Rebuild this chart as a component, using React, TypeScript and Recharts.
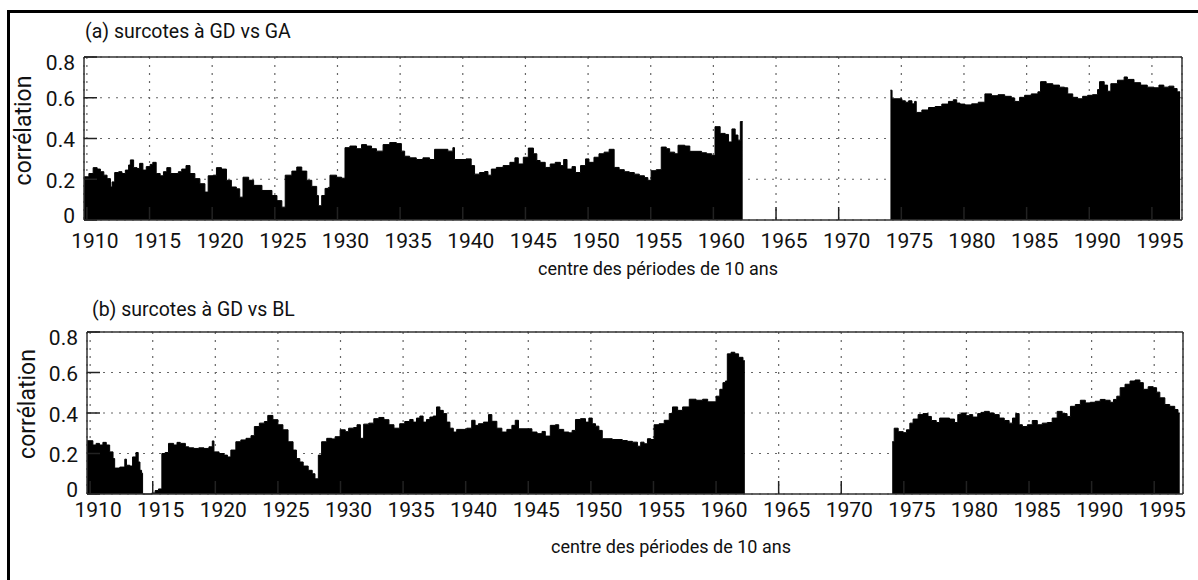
import { AreaChart, Area, XAxis, YAxis, CartesianGrid } from 'recharts';

// tick positions
const yearTicks = [1910, 1915, 1920, 1925, 1930, 1935, 1940, 1945, 1950, 1955, 1960, 1965, 1970, 1975, 1980, 1985, 1990, 1995];
const corrTicks = [0, 0.2, 0.4, 0.6, 0.8];

// (a) GD vs GA : centre of the 10-year window, correlation (null = no data)
const gaYears = [
  1909.77, 1910.16, 1910.5, 1910.82, 1911.08, 1911.35, 1911.61, 1911.88, 1912.01, 1912.22, 1912.54, 1912.8,
  1913.07, 1913.33, 1913.47, 1913.73, 1914.0, 1914.21, 1914.47, 1914.74, 1915.05, 1915.26, 1915.53, 1915.85,
  1916.11, 1916.38, 1916.69, 1917.3, 1917.57, 1917.91, 1918.23, 1918.62, 1919.02, 1919.42, 1919.68, 1920.08,
  1920.34, 1920.74, 1921.14, 1921.53, 1921.93, 1922.2, 1922.46, 1922.91, 1923.31, 1923.97, 1924.77, 1925.17,
  1925.56, 1925.83, 1926.36, 1926.75, 1927.15, 1927.55, 1927.95, 1928.34, 1928.48, 1928.74, 1929.01, 1929.27,
  1929.4, 1929.93, 1930.33, 1930.6, 1930.99, 1931.52, 1931.92, 1932.32, 1932.72, 1933.11, 1933.64, 1934.17,
  1934.7, 1935.1, 1935.36, 1935.76, 1936.29, 1936.82, 1937.35, 1937.75, 1938.81, 1939.21, 1939.34, 1940.26,
  1940.67, 1940.94, 1941.34, 1941.74, 1942.01, 1942.28, 1942.68, 1943.22, 1943.76, 1944.16, 1944.43, 1944.83,
  1945.23, 1945.64, 1945.91, 1946.17, 1946.58, 1946.98, 1947.38, 1947.79, 1948.05, 1948.32, 1948.72, 1948.99,
  1949.4, 1949.8, 1950.07, 1950.47, 1950.87, 1951.28, 1951.68, 1952.08, 1952.48, 1952.89, 1953.29, 1953.69,
  1954.09, 1954.5, 1954.77, 1955.03, 1955.44, 1955.84, 1956.24, 1956.51, 1956.91, 1957.18, 1957.72, 1958.12,
  1959.06, 1959.46, 1959.87, 1960.13, 1960.54, 1960.94, 1961.21, 1961.48, 1961.74, 1961.96, 1962.15, 1962.34,
  1968,
  1974.13, 1974.26, 1975.05, 1975.32, 1975.58, 1975.85, 1976.06, 1976.19, 1976.64, 1977.17, 1977.7, 1978.23,
  1978.76, 1979.15, 1979.42, 1979.68, 1980.08, 1980.61, 1981.14, 1981.67, 1982.2, 1982.72, 1983.25, 1983.78,
  1984.05, 1984.44, 1984.84, 1985.37, 1985.9, 1986.11, 1986.56, 1987.09, 1987.62, 1988.02, 1988.28, 1988.68,
  1989.07, 1989.47, 1989.87, 1990.26, 1990.66, 1990.82, 1991.19, 1991.46, 1991.72, 1992.25, 1992.78, 1993.04,
  1993.57, 1994.1, 1994.63, 1995.16, 1995.56, 1995.95, 1996.35, 1996.75, 1997.01, 1997.25,
];
const gaValues = [
  0.212, 0.228, 0.257, 0.25, 0.237, 0.22, 0.203, 0.162, 0.187, 0.233, 0.237, 0.228,
  0.245, 0.27, 0.295, 0.257, 0.253, 0.278, 0.245, 0.262, 0.273, 0.283, 0.228, 0.217,
  0.237, 0.257, 0.228, 0.237, 0.25, 0.267, 0.228, 0.203, 0.178, 0.137, 0.217, 0.22,
  0.257, 0.25, 0.195, 0.162, 0.153, 0.112, 0.21, 0.195, 0.17, 0.145, 0.12, 0.095,
  0.063, 0.22, 0.24, 0.26, 0.24, 0.195, 0.165, 0.12, 0.07, 0.12, 0.155, 0.16,
  0.22, 0.21, 0.205, 0.355, 0.363, 0.35, 0.37, 0.363, 0.35, 0.338, 0.37, 0.38,
  0.375, 0.338, 0.313, 0.305, 0.297, 0.305, 0.297, 0.347, 0.338, 0.355, 0.297, 0.3,
  0.267, 0.225, 0.233, 0.238, 0.22, 0.25, 0.258, 0.267, 0.283, 0.305, 0.275, 0.308,
  0.353, 0.325, 0.292, 0.283, 0.258, 0.275, 0.283, 0.267, 0.297, 0.25, 0.262, 0.233,
  0.267, 0.3, 0.283, 0.308, 0.325, 0.333, 0.347, 0.258, 0.247, 0.237, 0.233, 0.225,
  0.217, 0.208, 0.195, 0.242, 0.247, 0.358, 0.35, 0.333, 0.325, 0.367, 0.363, 0.337,
  0.33, 0.325, 0.317, 0.458, 0.425, 0.42, 0.383, 0.447, 0.417, 0.392, 0.483, 0.483,
  null,
  0.637, 0.595, 0.585, 0.578, 0.585, 0.57, 0.582, 0.528, 0.54, 0.552, 0.557, 0.569,
  0.582, 0.59, 0.574, 0.569, 0.565, 0.57, 0.578, 0.619, 0.61, 0.615, 0.607, 0.599,
  0.582, 0.602, 0.612, 0.619, 0.629, 0.679, 0.669, 0.662, 0.652, 0.649, 0.619, 0.602,
  0.595, 0.607, 0.612, 0.615, 0.64, 0.679, 0.662, 0.632, 0.669, 0.686, 0.702, 0.69,
  0.674, 0.662, 0.652, 0.649, 0.662, 0.652, 0.657, 0.645, 0.629, 0.629,
];

// (b) GD vs BL
const blYears = [
  1909.75, 1910.22, 1910.48, 1910.75, 1911.02, 1911.29, 1911.56, 1911.83, 1911.96, 1912.37, 1912.77, 1912.9,
  1913.17, 1913.39, 1913.66, 1913.84, 1913.98, 1914.11, 1914.19, 1914.92, 1915.19, 1915.46, 1915.73, 1915.99,
  1916.26, 1916.67, 1916.94, 1917.2, 1917.61, 1917.88, 1918.28, 1918.68, 1919.09, 1919.49, 1919.76, 1919.89,
  1920.3, 1920.7, 1920.97, 1921.24, 1921.64, 1922.04, 1922.45, 1922.85, 1923.12, 1923.52, 1923.92, 1924.19,
  1924.6, 1925.0, 1925.4, 1925.81, 1926.21, 1926.48, 1926.75, 1927.02, 1927.42, 1927.74, 1927.96, 1928.23,
  1928.49, 1928.9, 1929.3, 1929.57, 1929.97, 1930.38, 1930.65, 1931.05, 1931.32, 1931.59, 1931.85, 1932.26,
  1932.66, 1933.06, 1933.47, 1933.87, 1934.27, 1934.73, 1935.13, 1935.53, 1935.8, 1936.07, 1936.34, 1936.6,
  1936.87, 1937.14, 1937.41, 1937.67, 1937.94, 1938.21, 1938.48, 1938.74, 1939.01, 1939.28, 1940.08, 1940.48,
  1940.75, 1941.02, 1941.42, 1941.82, 1942.09, 1942.49, 1942.89, 1943.29, 1943.69, 1943.96, 1944.22, 1945.29,
  1945.7, 1946.1, 1946.36, 1946.76, 1947.17, 1947.43, 1947.83, 1948.24, 1948.5, 1948.77, 1949.17, 1949.57,
  1949.84, 1950.11, 1950.37, 1950.64, 1950.91, 1951.71, 1952.51, 1952.91, 1953.32, 1953.72, 1953.98, 1954.25,
  1954.52, 1954.79, 1955.05, 1955.45, 1955.86, 1956.26, 1956.52, 1956.93, 1957.33, 1957.86, 1958.4, 1958.93,
  1959.33, 1960.0, 1960.3, 1960.55, 1960.75, 1960.9, 1961.2, 1961.5, 1961.8, 1962.15, 1962.3,
  1968,
  1974.07, 1974.23, 1974.55, 1974.95, 1975.21, 1975.48, 1975.74, 1976.14, 1976.53, 1976.93, 1977.2, 1977.59,
  1977.86, 1978.65, 1979.05, 1979.31, 1979.58, 1979.97, 1980.24, 1980.5, 1980.9, 1981.16, 1981.43, 1981.83,
  1982.22, 1982.62, 1983.02, 1983.41, 1983.68, 1983.94, 1984.21, 1984.47, 1984.87, 1985.26, 1985.66, 1986.06,
  1986.46, 1986.85, 1987.25, 1987.65, 1988.04, 1988.31, 1988.7, 1989.1, 1989.5, 1989.89, 1990.29, 1990.69,
  1991.08, 1991.48, 1991.75, 1992.01, 1992.28, 1992.67, 1993.07, 1993.47, 1993.86, 1994.13, 1994.52, 1994.92,
  1995.19, 1995.45, 1995.85, 1996.24, 1996.64, 1996.9, 1997.04,
];
const blValues = [
  0.263, 0.242, 0.25, 0.242, 0.255, 0.242, 0.208, 0.175, 0.128, 0.133, 0.172, 0.142,
  0.138, 0.183, 0.205, 0.158, 0.117, 0.103, 0, 0.005, 0.017, 0.025, 0.2, 0.205,
  0.25, 0.242, 0.255, 0.25, 0.233, 0.228, 0.225, 0.228, 0.225, 0.233, 0.262, 0.208,
  0.2, 0.192, 0.183, 0.217, 0.258, 0.267, 0.275, 0.288, 0.333, 0.35, 0.358, 0.388,
  0.367, 0.342, 0.317, 0.258, 0.217, 0.175, 0.158, 0.138, 0.117, 0.1, 0.075, 0.192,
  0.258, 0.275, 0.272, 0.283, 0.317, 0.308, 0.325, 0.328, 0.342, 0.275, 0.345, 0.35,
  0.372, 0.378, 0.367, 0.342, 0.325, 0.347, 0.358, 0.368, 0.355, 0.375, 0.385, 0.355,
  0.368, 0.38, 0.385, 0.43, 0.413, 0.397, 0.355, 0.325, 0.306, 0.319, 0.325, 0.364,
  0.339, 0.347, 0.355, 0.392, 0.359, 0.325, 0.306, 0.319, 0.339, 0.364, 0.322, 0.306,
  0.298, 0.309, 0.286, 0.339, 0.342, 0.319, 0.306, 0.302, 0.314, 0.368, 0.372, 0.355,
  0.375, 0.347, 0.335, 0.314, 0.273, 0.269, 0.264, 0.26, 0.256, 0.236, 0.256, 0.248,
  0.273, 0.269, 0.342, 0.347, 0.364, 0.397, 0.43, 0.413, 0.43, 0.468, 0.463, 0.468,
  0.455, 0.483, 0.517, 0.55, 0.558, 0.692, 0.7, 0.692, 0.675, 0.658, 0.658,
  null,
  0.258, 0.325, 0.308, 0.303, 0.317, 0.35, 0.37, 0.392, 0.397, 0.383, 0.363, 0.353,
  0.375, 0.37, 0.353, 0.392, 0.4, 0.387, 0.392, 0.38, 0.397, 0.403, 0.408, 0.4,
  0.392, 0.375, 0.363, 0.35, 0.375, 0.397, 0.342, 0.333, 0.342, 0.363, 0.342, 0.35,
  0.353, 0.375, 0.408, 0.397, 0.383, 0.433, 0.442, 0.463, 0.45, 0.453, 0.458, 0.467,
  0.463, 0.453, 0.467, 0.483, 0.525, 0.542, 0.558, 0.563, 0.55, 0.517, 0.53, 0.525,
  0.503, 0.475, 0.442, 0.433, 0.417, 0.4, 0.4,
];

const FONT = 'Roboto, "Liberation Sans", Arial, sans-serif';
const INK = '#111';
const FRAME = '#333';

const toRows = (years: number[], values: (number | null)[]) =>
  years.map((x, i) => ({ x, r: values[i] }));

const fmtCorr = (v: number) => (v === 0 ? '0' : v.toFixed(1));

// the top and bottom y labels sit a little inside the frame, as in the original
const CorrTick = (props: any) => {
  const { x, y, payload } = props;
  const v = payload.value;
  const shift = v === 0.8 ? 5 : v === 0 ? -5 : 1;
  return (
    <text x={x} y={y + shift} dy="0.36em" textAnchor="end" fill={INK} fontSize={21} fontFamily={FONT}>
      {fmtCorr(v)}
    </text>
  );
};

type PanelProps = {
  rows: { x: number; r: number | null }[];
  title: string;
  top: number;
  titleLeft: number;
  titleTop: number;
  margin: { top: number; right: number; bottom: number; left: number };
  yWidth: number;
  xHeight: number;
  domain: [number, number];
  tickGap: number;
  xLabelOffset: number;
  xLabelDx: number;
  yLabelOffset: number;
  yLabelDy: number;
};

function Panel(p: PanelProps) {
  return (
    <div style={{ position: 'absolute', left: 0, top: p.top, width: 1198, height: 290 }}>
      <div style={{ position: 'absolute', left: p.titleLeft, top: p.titleTop, fontFamily: FONT, fontSize: 19.5, lineHeight: '22px', color: INK, whiteSpace: 'nowrap' }}>
        {p.title}
      </div>
      <AreaChart width={1198} height={290} data={p.rows} margin={p.margin}>
        <CartesianGrid stroke="#666" strokeWidth={1.2} strokeDasharray="2 6" />
        <Area
          dataKey="r"
          type="stepAfter"
          stroke="#000"
          strokeWidth={1}
          fill="#000"
          fillOpacity={1}
          connectNulls={false}
          dot={false}
          activeDot={false}
          isAnimationActive={false}
        />
        <XAxis
          dataKey="x"
          type="number"
          domain={p.domain}
          allowDataOverflow
          ticks={yearTicks}
          interval={0}
          height={p.xHeight}
          tickSize={-13}
          tickMargin={13 + p.tickGap}
          tick={{ fill: INK, fontSize: 21, fontFamily: FONT, dx: 8 }}
          axisLine={{ stroke: FRAME, strokeWidth: 1.5 }}
          tickLine={{ stroke: '#222', strokeWidth: 1.5 }}
          label={{ value: 'centre des périodes de 10 ans', position: 'insideBottom', offset: p.xLabelOffset, dx: p.xLabelDx, fill: INK, fontSize: 18, fontFamily: FONT }}
        />
        <XAxis
          xAxisId="top"
          orientation="top"
          dataKey="x"
          type="number"
          domain={p.domain}
          allowDataOverflow
          ticks={yearTicks}
          interval={0}
          height={1}
          tickSize={-13}
          tick={false}
          axisLine={{ stroke: FRAME, strokeWidth: 1.5 }}
          tickLine={{ stroke: '#222', strokeWidth: 1.5 }}
        />
        <YAxis
          type="number"
          domain={[0, 0.8]}
          ticks={corrTicks}
          interval={0}
          width={p.yWidth}
          tickSize={-13}
          tickMargin={22}
          tick={CorrTick}
          axisLine={{ stroke: FRAME, strokeWidth: 1.5 }}
          tickLine={{ stroke: '#222', strokeWidth: 1.5 }}
          label={{ value: 'corrélation', angle: -90, position: 'insideLeft', offset: p.yLabelOffset, dy: p.yLabelDy, fill: INK, fontSize: 23, fontFamily: FONT, style: { textAnchor: 'middle' } }}
        />
        <YAxis
          yAxisId="right"
          orientation="right"
          type="number"
          domain={[0, 0.8]}
          ticks={corrTicks}
          interval={0}
          width={1}
          tickSize={-13}
          tick={false}
          axisLine={{ stroke: FRAME, strokeWidth: 1.5 }}
          tickLine={{ stroke: '#222', strokeWidth: 1.5 }}
        />
      </AreaChart>
    </div>
  );
}

export default function App() {
  return (
    <div style={{ position: 'absolute', left: 0, top: 0, width: 1198, height: 580, background: '#fff', overflow: 'hidden' }}>
      <div style={{ position: 'absolute', left: 7, top: 10, right: 0, bottom: 0, borderTop: '3px solid #000', borderLeft: '3px solid #000' }} />
      <Panel
        rows={toRows(gaYears, gaValues)}
        title="(a) surcotes à GD vs GA"
        top={0}
        titleLeft={85}
        titleTop={21}
        margin={{ top: 56, right: 15, bottom: 0, left: 0 }}
        yWidth={84}
        xHeight={70}
        domain={[1909.77, 1997.4]}
        tickGap={13}
        xLabelOffset={15}
        xLabelDx={25}
        yLabelOffset={23}
        yLabelDy={-8}
      />
      <Panel
        rows={toRows(blYears, blValues)}
        title="(b) surcotes à GD vs BL"
        top={290}
        titleLeft={92}
        titleTop={9}
        margin={{ top: 41, right: 14, bottom: 0, left: 0 }}
        yWidth={87}
        xHeight={86}
        domain={[1909.75, 1997.3]}
        tickGap={8}
        xLabelOffset={27}
        xLabelDx={36}
        yLabelOffset={27}
        yLabelDy={-9}
      />
    </div>
  );
}
